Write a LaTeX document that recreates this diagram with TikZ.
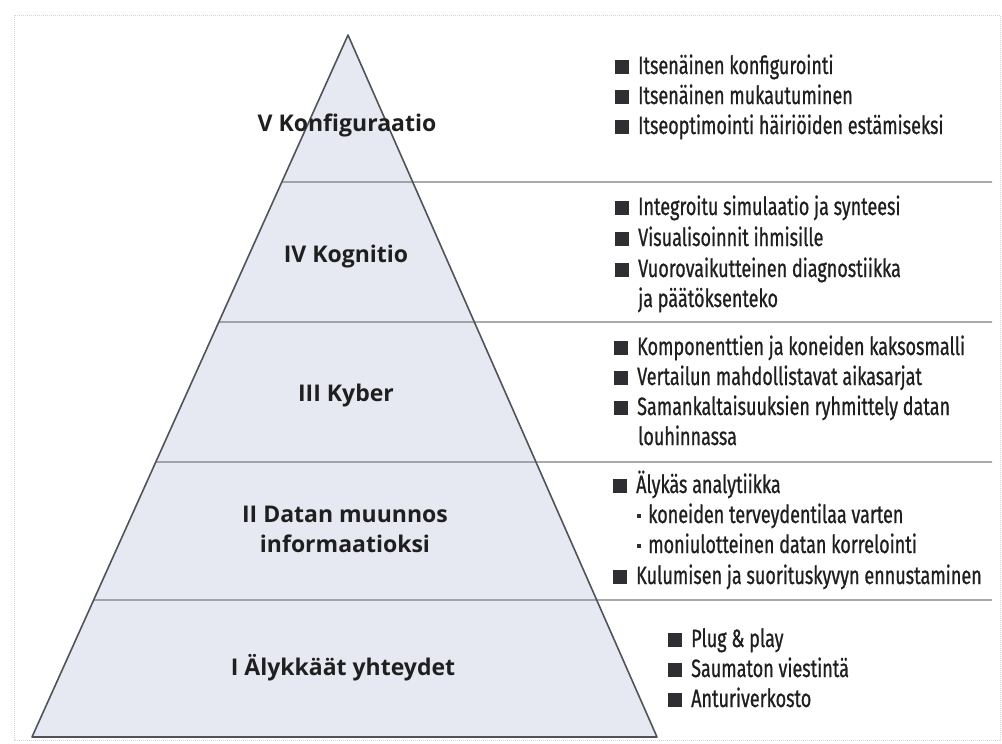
\documentclass[tikz,border=0pt]{standalone}
\usepackage{fontspec}
\usepackage{tikz}
\usetikzlibrary{calc}
\newfontfamily\lvlfont[BoldFont={Open Sans Bold}]{Open Sans}
\newfontfamily\itemfont[FakeStretch=0.72, FakeBold=0.8]{Fira Sans}
\definecolor{mPyrFill}{HTML}{E6E9F1}
\definecolor{mPyrLine}{HTML}{505359}
\definecolor{mSepLine}{HTML}{7A7C80}
\definecolor{mFrame}{HTML}{D6D6D6}
\definecolor{mBullet}{HTML}{2E2E33}
\newcommand{\sqb}{\textcolor{mBullet}{\rule{14pt}{14pt}}\hspace{9pt}}
\newcommand{\dotb}{\textcolor{mBullet}{\rule[5pt]{4pt}{4pt}}\hspace{7pt}}
\tikzset{
  lvl/.style={font=\lvlfont\bfseries\fontsize{23}{30}\selectfont, text=black!88, align=center, inner sep=0pt},
  item/.style={font=\itemfont\fontsize{25}{30}\selectfont, text=black!88, anchor=base west, inner sep=0pt},
  sep/.style={draw=mSepLine, line width=1.3pt}
}

\begin{document}
\begin{tikzpicture}[x=1pt, y=-1pt]
  \useasboundingbox (0,0) rectangle (1002,744);
  \draw[mFrame, densely dotted, line width=1pt] (14,15) rectangle (1000,740);

  \coordinate (top) at (348,35);
  \coordinate (bl) at (32,737);
  \coordinate (br) at (657,737);
  \fill[mPyrFill] (top) -- (bl) -- (br) -- cycle;
  \foreach \y in {182, 322, 462, 600} {
    \draw[sep] ($(top)!{(\y-35)/702}!(bl)$) -- (992,\y);
  }
  \draw[mPyrLine, line width=1.6pt, line join=round] (top) -- (bl) -- (br) -- cycle;

  % levels
  \node[lvl, anchor=base] (lvlV) at (347,131) {V Konfiguraatio};
  \node[lvl, anchor=base] (lvlIV) at (346,262) {IV Kognitio};
  \node[lvl, anchor=base] (lvlIII) at (346,401) {III Kyber};
  \node[lvl] (lvlII) at (345,529) {II Datan muunnos\\informaatioksi};
  \node[lvl, anchor=base] (lvlI) at (343,675) {I Älykkäät yhteydet};

  % V
  \foreach \t [count=\i from 0] in {Itsenäinen konfigurointi, Itsenäinen mukautuminen, Itseoptimointi häiriöiden estämiseksi} {
    \node[item] (v\i) at (615,74+\i*30) {\sqb\t};
  }
  % IV
  \foreach \t [count=\i from 0] in {Integroitu simulaatio ja synteesi, Visualisoinnit ihmisille, Vuorovaikutteinen diagnostiikka} {
    \node[item] (iv\i) at (615,215+\i*31) {\sqb\t};
  }
  \node[item] (iv3) at (638,307) {ja päätöksenteko};
  % III
  \foreach \t [count=\i from 0] in {Komponenttien ja koneiden kaksosmalli, Vertailun mahdollistavat aikasarjat, Samankaltaisuuksien ryhmittely datan} {
    \node[item] (iii\i) at (614,355+\i*30) {\sqb\t};
  }
  \node[item] (iii3) at (638,445) {louhinnassa};
  % II
  \node[item] (ii0) at (613,493) {\sqb Älykäs analytiikka};
  \node[item] (ii1) at (637,523) {\dotb koneiden terveydentilaa varten};
  \node[item] (ii2) at (637,553) {\dotb moniulotteinen datan korrelointi};
  \node[item] (ii3) at (613,584) {\sqb Kulumisen ja suorituskyvyn ennustaminen};
  % I
  \foreach \t [count=\i from 0] in {Plug \& play, Saumaton viestintä, Anturiverkosto} {
    \node[item] (i\i) at (668,647+\i*30) {\sqb\t};
  }
\end{tikzpicture}
\end{document}
